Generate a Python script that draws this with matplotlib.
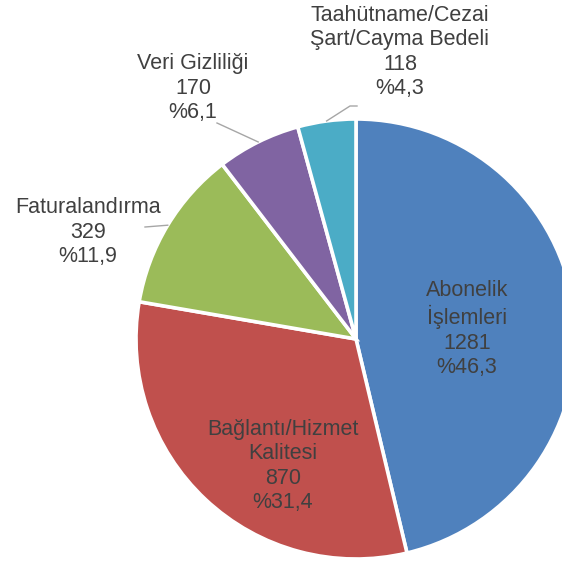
import numpy as np
import matplotlib
matplotlib.use("Agg")
import matplotlib.pyplot as plt

plt.rcParams['font.family'] = ['Liberation Sans', 'DejaVu Sans']

# Data
categories = ["Abonelik\nİşlemleri", "Bağlantı/Hizmet\nKalitesi", "Faturalandırma",
              "Veri Gizliliği", "Taahütname/Cezai\nŞart/Cayma Bedeli"]
counts = [1281, 870, 329, 170, 118]
colors = ["#4F81BD", "#C0504D", "#9BBB59", "#8064A2", "#4BACC6"]

W, H = 562, 563
fig = plt.figure(figsize=(W / 100, H / 100), dpi=100)
ax = fig.add_axes([0, 0, 1, 1])

cx, cy, r = 356, H - 339, 220
wedges, _ = ax.pie(counts, colors=colors, startangle=90, counterclock=False,
                   center=(cx, cy), radius=r,
                   wedgeprops=dict(edgecolor="white", linewidth=2.6))
ax.set_xlim(0, W)
ax.set_ylim(0, H)
ax.set_aspect("equal")
ax.axis("off")

total = sum(counts)
labels = []
for name, v in zip(categories, counts):
    pct = f"{v / total * 100:.1f}".replace(".", ",")
    labels.append(f"{name}\n{v}\n%{pct}")

# label centres (pixel coords from top) and leader line points
label_pos = [(467, 329), (283, 466), (88, 232), (193, 88), (400, 52)]
leaders = [None, None, [(145, 227)], [(217, 123)], [(350, 106), (357, 106)]]

for w, lab, (lx, ly), lead in zip(wedges, labels, label_pos, leaders):
    ax.text(lx, H - ly, lab, ha="center", va="center", fontsize=15.5,
            color="#404040", linespacing=1.22)
    if lead:
        mid = np.deg2rad((w.theta1 + w.theta2) / 2)
        px, py = cx + r * np.cos(mid), cy + r * np.sin(mid)
        xs = [px] + [p[0] for p in lead]
        ys = [py] + [H - p[1] for p in lead]
        ax.plot(xs, ys, color="#A6A6A6", linewidth=1.0)

fig.savefig("out.png", dpi=100)
